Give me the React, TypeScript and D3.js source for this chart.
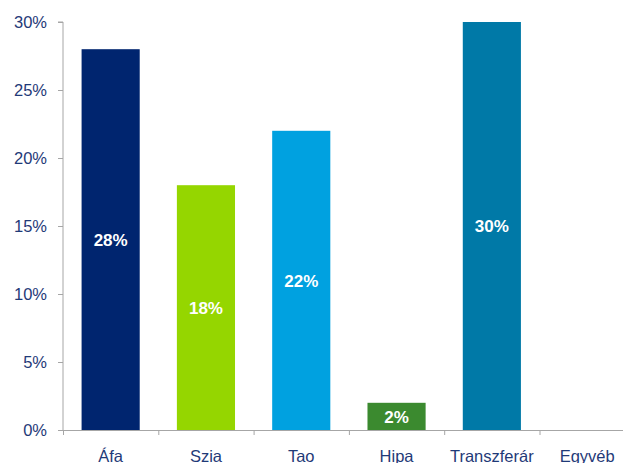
import React, { useEffect, useRef } from "react";
import * as d3 from "d3";

const categories = ["Áfa", "Szia", "Tao", "Hipa", "Transzferár", "Egyvéb"];
const values = [28, 18, 22, 2, 30, 0];
const barColors = ["#00256f", "#95d600", "#00a1e0", "#3b8a2f", "#0079a7", "#7f7f7f"];
const yTicks = [0, 5, 10, 15, 20, 25, 30];

const width = 623;
const height = 463;
const marginLeft = 63;
const marginTop = 22;
const plotBottom = 430;
const bandWidth = 95.3;

const App: React.FC = () => {
  const svgRef = useRef<SVGSVGElement>(null);

  useEffect(() => {
    if (!svgRef.current) return;
    const svg = d3.select(svgRef.current);
    svg.selectAll("*").remove();

    const x = d3
      .scaleBand()
      .domain(categories)
      .range([marginLeft, marginLeft + bandWidth * categories.length])
      .paddingInner(0.39)
      .paddingOuter(0.195);

    const y = d3.scaleLinear().domain([0, 30]).range([plotBottom, marginTop]);

    // bars
    svg
      .append("g")
      .selectAll("rect")
      .data(values)
      .join("rect")
      .attr("x", (d, i) => x(categories[i]) || 0)
      .attr("y", (d) => y(d))
      .attr("width", x.bandwidth())
      .attr("height", (d) => y(0) - y(d))
      .attr("fill", (d, i) => barColors[i]);

    // value labels in the middle of the bars (skip the empty one)
    const labelled = values.map((v, i) => ({ v, c: categories[i] })).filter((d) => d.v > 0);
    svg
      .append("g")
      .selectAll("text")
      .data(labelled)
      .join("text")
      .attr("x", (d) => (x(d.c) || 0) + x.bandwidth() / 2)
      .attr("y", (d) => (y(d.v) + y(0)) / 2)
      .attr("dy", "0.36em")
      .attr("text-anchor", "middle")
      .attr("fill", "#fff")
      .attr("font-family", "Liberation Sans, Arial, sans-serif")
      .attr("font-weight", "bold")
      .attr("font-size", 17)
      .text((d) => `${d.v}%`);

    // y axis
    svg
      .append("g")
      .attr("transform", `translate(${marginLeft},0)`)
      .call(
        d3
          .axisLeft(y)
          .tickValues(yTicks)
          .tickSize(5)
          .tickPadding(11)
          .tickFormat((d) => `${d}%`)
      )
      .call((g) => g.select(".domain").attr("stroke", "#a6a6a6").attr("d", `M-5,${marginTop}H0V${plotBottom}`))
      .call((g) => g.selectAll(".tick line").attr("stroke", "#a6a6a6"))
      .call((g) =>
        g
          .selectAll(".tick text")
          .attr("fill", "#1f3a78")
          .attr("font-family", "Liberation Sans, Arial, sans-serif")
          .attr("font-size", 16.5)
      );

    // x axis
    const xTickPos = d3.range(categories.length + 1).map((i) => marginLeft + i * bandWidth);
    const xAxis = svg.append("g");
    xAxis
      .append("line")
      .attr("x1", marginLeft)
      .attr("x2", width)
      .attr("y1", plotBottom + 0.5)
      .attr("y2", plotBottom + 0.5)
      .attr("stroke", "#a6a6a6");
    xAxis
      .selectAll("line.tk")
      .data(xTickPos)
      .join("line")
      .attr("class", "tk")
      .attr("x1", (d) => d + 0.5)
      .attr("x2", (d) => d + 0.5)
      .attr("y1", plotBottom)
      .attr("y2", plotBottom + 5)
      .attr("stroke", "#a6a6a6");
    xAxis
      .selectAll("text")
      .data(categories)
      .join("text")
      .attr("x", (d) => (x(d) || 0) + x.bandwidth() / 2)
      .attr("y", 462)
      .attr("text-anchor", "middle")
      .attr("fill", "#1f3a78")
      .attr("font-family", "Liberation Sans, Arial, sans-serif")
      .attr("font-size", 16.5)
      .text((d) => d);
  }, []);

  return (
    <svg
      ref={svgRef}
      width={width}
      height={height}
      style={{ position: "absolute", left: 0, top: 0, background: "#fff" }}
    />
  );
};

export default App;
